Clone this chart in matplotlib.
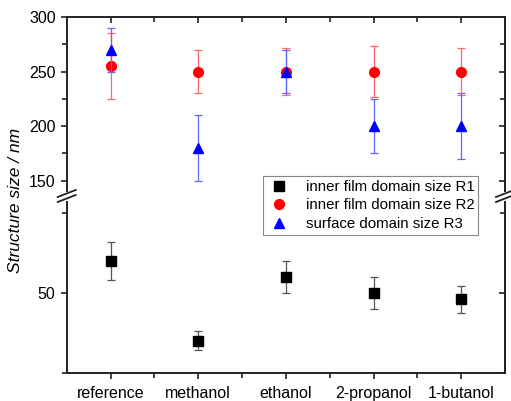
import matplotlib
matplotlib.use("Agg")
import matplotlib.pyplot as plt
from matplotlib.lines import Line2D

plt.rcParams["font.family"] = ["Liberation Sans", "DejaVu Sans"]

solvents = ["reference", "methanol", "ethanol", "2-propanol", "1-butanol"]

# inner film domain size R1 (nm)
r1 = [60, 35, 55, 50, 48]
r1_err = [6, 3, 5, 5, 4.2]

# inner film domain size R2 (nm)
r2 = [255, 250, 250, 250, 250]
r2_err = [30, 20, 22, 23, 22]

# surface domain size R3 (nm)
r3 = [270, 180, 250, 200, 200]
r3_err = [20, 30, 20, 25, 30]

W, H = 511, 401
fig = plt.figure(figsize=(W / 100, H / 100), dpi=100)

left, right = 66.7, 505
top_up, bot_up = 17, 191.4
top_lo, bot_lo = 202, 372.7

ax_up = fig.add_axes([left / W, 1 - bot_up / H, (right - left) / W, (bot_up - top_up) / H])
ax_lo = fig.add_axes([left / W, 1 - bot_lo / H, (right - left) / W, (bot_lo - top_lo) / H])

x = list(range(len(solvents)))

ebar = dict(elinewidth=0.9, capsize=3, capthick=0.9)
ax_lo.errorbar(x, r1, yerr=r1_err, fmt="s", color="black", ms=6.5,
               ecolor="#555555", zorder=3, **ebar)
ax_up.errorbar(x, r2, yerr=r2_err, fmt="o", color="#ff0000", ms=7,
               ecolor="#ff6666", zorder=3, **ebar)
ax_up.errorbar(x, r3, yerr=r3_err, fmt="^", color="#0000ff", ms=7.5,
               ecolor="#6666ff", zorder=4, **ebar)

ax_up.set_ylim(140, 300)
ax_lo.set_ylim(25, 25 + (bot_lo - top_lo) / 3.2)

up_major, up_minor = [150, 200, 250, 300], [175, 225, 275]
lo_major, lo_minor = [50], [25, 75]

for ax, major, minor in ((ax_up, up_major, up_minor), (ax_lo, lo_major, lo_minor)):
    ax.set_xlim(-0.5, 4.5)
    ax.set_xticks(x)
    ax.set_xticks([0.5, 1.5, 2.5, 3.5], minor=True)
    ax.set_yticks(major)
    ax.set_yticks(minor, minor=True)
    for s in ax.spines.values():
        s.set_linewidth(1.4)
        s.set_color("#222222")
    ax.tick_params(which="both", width=1.2, color="#222222", labelsize=11.5,
                   direction="out", right=False)
    ax.tick_params(which="major", length=4.5)
    ax.tick_params(which="minor", length=3.5)

    # right-hand ticks point into the plot
    sec = ax.secondary_yaxis("right")
    sec.set_yticks(major)
    sec.set_yticks(minor, minor=True)
    sec.spines["right"].set_linewidth(1.4)
    sec.spines["right"].set_color("#222222")
    sec.tick_params(which="both", direction="in", width=1.2, color="#222222",
                    labelright=False)
    sec.tick_params(which="major", length=4.5)
    sec.tick_params(which="minor", length=3.5)

ax_up.spines["bottom"].set_visible(False)
ax_up.tick_params(axis="x", which="both", bottom=False, labelbottom=False,
                  top=True, direction="in")

ax_lo.spines["top"].set_visible(False)
ax_lo.set_xticklabels(solvents)
ax_lo.tick_params(axis="x", which="both", top=False, pad=5)

# axis-break slashes on both sides
for xc in (left, right):
    for yc in (193.5, 198.5):
        dx, dy = 9, 3.5
        fig.add_artist(Line2D([(xc - dx) / W, (xc + dx) / W],
                              [1 - (yc + dy) / H, 1 - (yc - dy) / H],
                              color="#222222", lw=1.3))

fig.text(16 / W, 1 - 200 / H, "Structure size / nm", rotation=90,
         ha="center", va="center", fontsize=12.5, style="italic")

handles = [
    Line2D([], [], ls="none", marker="s", color="black", ms=6.5),
    Line2D([], [], ls="none", marker="o", color="#ff0000", ms=7),
    Line2D([], [], ls="none", marker="^", color="#0000ff", ms=7.5),
]
labels = ["inner film domain size R1", "inner film domain size R2",
          "surface domain size R3"]
leg = fig.legend(handles, labels, loc="upper left",
                 bbox_to_anchor=(263 / W, 1 - 176 / H), bbox_transform=fig.transFigure,
                 borderaxespad=0, fontsize=10.8, frameon=True, fancybox=False,
                 edgecolor="#888888", framealpha=1, handlelength=1.6,
                 handletextpad=1.0, labelspacing=0.3, borderpad=0.25)
leg.get_frame().set_linewidth(0.8)
leg.set_zorder(10)

fig.savefig("out.png", dpi=100)
